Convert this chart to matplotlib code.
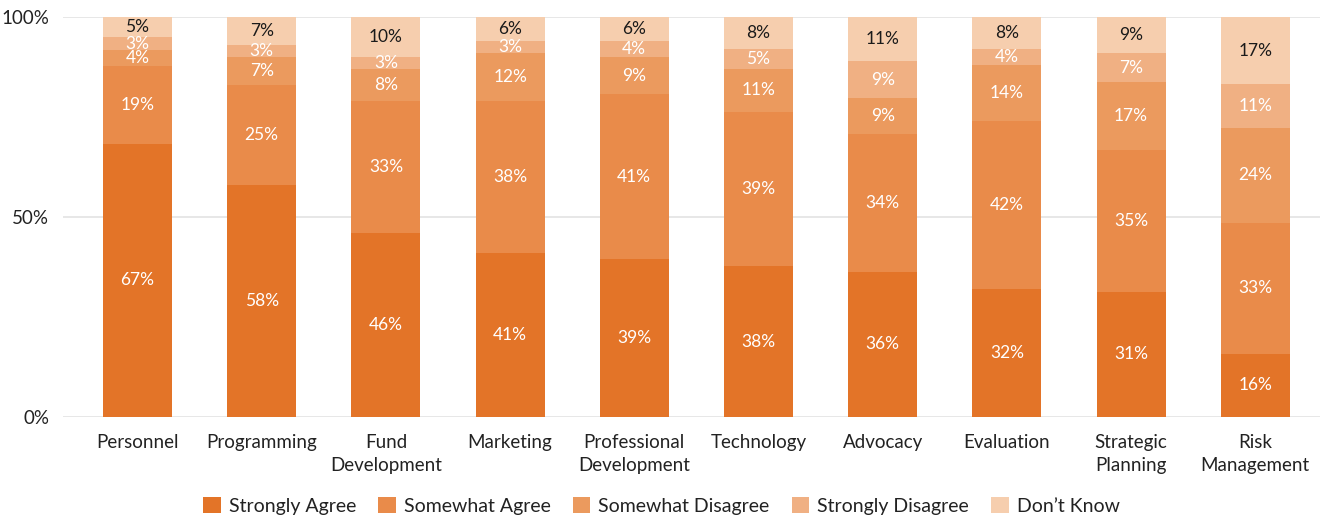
import matplotlib
matplotlib.use("Agg")
import matplotlib.pyplot as plt
from matplotlib.patches import Patch
import numpy as np

plt.rcParams['font.family'] = ['Lato', 'DejaVu Sans']

categories = ["Personnel", "Programming", "Fund\nDevelopment", "Marketing",
              "Professional\nDevelopment", "Technology", "Advocacy", "Evaluation",
              "Strategic\nPlanning", "Risk\nManagement"]

series_names = ["Strongly Agree", "Somewhat Agree", "Somewhat Disagree",
                "Strongly Disagree", "Don\u2019t Know"]

strongly_agree = [67, 58, 46, 41, 39, 38, 36, 32, 31, 16]
somewhat_agree = [19, 25, 33, 38, 41, 39, 34, 42, 35, 33]
somewhat_disagree = [4, 7, 8, 12, 9, 11, 9, 14, 17, 24]
strongly_disagree = [3, 3, 3, 3, 4, 5, 9, 4, 7, 11]
dont_know = [5, 7, 10, 6, 6, 8, 11, 8, 9, 17]

colors = ["#E37428", "#E98B4A", "#EB9A5E", "#F0B083", "#F6CEAE"]
label_colors = ["white", "white", "white", "white", "#1a1a1a"]

data = np.array([strongly_agree, somewhat_agree, somewhat_disagree,
                 strongly_disagree, dont_know], dtype=float)
shares = data / data.sum(axis=0) * 100

fig = plt.figure(figsize=(13.23, 5.16), dpi=100)
ax = fig.add_axes([0.0476, 0.192, 0.950, 0.775])

x = np.arange(len(categories))
width = 0.555
bottom = np.zeros(len(categories))
for i, name in enumerate(series_names):
    ax.bar(x, shares[i], width, bottom=bottom, color=colors[i], label=name,
           zorder=3, linewidth=0)
    for j in range(len(categories)):
        ax.text(x[j], bottom[j] + shares[i][j] / 2, f"{int(data[i][j])}%",
                ha="center", va="center", fontsize=12.5, color=label_colors[i],
                zorder=4)
    bottom += shares[i]

ax.set_xlim(-0.6, len(categories) - 0.48)
ax.set_ylim(0, 100)
ax.set_yticks([0, 50, 100])
ax.set_yticklabels(["0%", "50%", "100%"])
ax.set_xticks(x)
ax.set_xticklabels(categories, linespacing=1.45)
ax.tick_params(axis="both", length=0, labelsize=13.5, colors="#222222")
ax.tick_params(axis="x", pad=12)
ax.tick_params(axis="y", pad=10)
ax.grid(axis="y", color="#e3e3e3", linewidth=1.2, zorder=0)
for s in ax.spines.values():
    s.set_visible(False)

handles = [Patch(facecolor=c, label=n) for c, n in zip(colors, series_names)]
fig.legend(handles=handles, loc="lower center", bbox_to_anchor=(0.5, -0.032),
           ncol=5, frameon=False, fontsize=14, handlelength=0.9,
           handleheight=0.9, handletextpad=0.4, columnspacing=1.15,
           labelcolor="#222222")

fig.savefig("out.png", dpi=100)
